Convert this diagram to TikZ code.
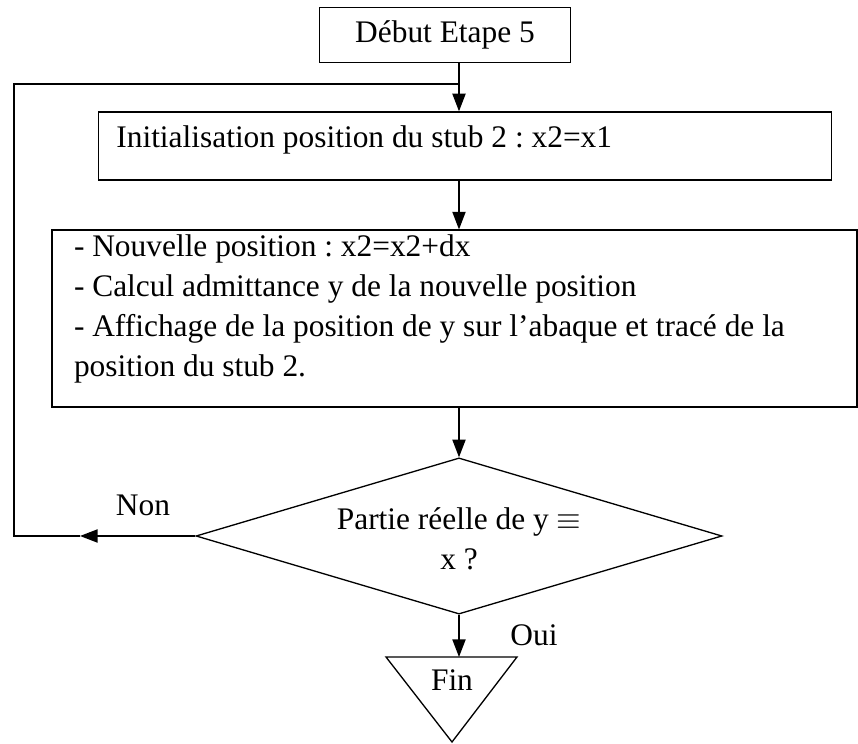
\documentclass[tikz,border=0pt]{standalone}
\usepackage{fontspec}
\setmainfont{Liberation Serif}
\usetikzlibrary{shapes.geometric,arrows.meta}

\tikzset{
  box/.style={draw, rectangle, inner sep=0pt},
  test/.style={draw, diamond, aspect=3.37, inner sep=0pt, align=center},
  tag/.style={inner sep=0pt}
}

\begin{document}
\frenchspacing
\begin{tikzpicture}[x=0.016cm, y=-0.016cm, line width=0.6pt,
    >={Triangle[length=8pt, width=6pt]},
    font=\fontsize{14.3}{18.2}\selectfont]
  \useasboundingbox (0,0) rectangle (858,744);
  % boxes of the flow, top to bottom
  \node[box, minimum width=4.02cm, minimum height=0.88cm] (debut) at (445,35) {Début Etape 5};
  \node[box, minimum width=11.74cm, minimum height=1.09cm,
        label={[tag, anchor=north west, xshift=0.29cm, yshift=-0.22cm]north west:Initialisation position du stub 2 : x2=x1}]
    (init) at (465,146) {};
  \node[box, minimum width=12.88cm, minimum height=2.83cm,
        label={[tag, anchor=north west, align=left, xshift=0.35cm, yshift=-0.08cm]north west:{- Nouvelle position : x2=x2+dx\\
          - Calcul admittance y de la nouvelle position\\
          - Affichage de la position de y sur l'abaque et tracé de la\\
          position du stub 2.}}]
    (calc) at (454.5,318.5) {};
  \node[test, minimum width=8.42cm, minimum height=2.5cm] (test) at (459,536)
    {\strut Partie réelle de y $\equiv$\\x ?};
  % end marker: upside-down triangle
  \coordinate (fintop) at (459,657);
  \draw (386,657) -- (517,657) -- (452,742) -- cycle;
  \node[tag] (fin) at (452,680) {Fin};
  % main flow
  \coordinate (join) at (459,84);
  \draw (debut.south -| join) -- (join);
  \draw[->] (join) -- (init.north -| join);
  \draw[->] (init.south -| join) -- (calc.north -| join);
  \draw[->] (calc.south -| join) -- (test.north);
  \draw[->] (test.south) -- (fintop);
  % loop back on "Non"
  \coordinate (nonend) at (80,536);
  \coordinate (corner) at (14,536);
  \draw[->] (test.west) -- (nonend);
  \draw (nonend) -- (corner) |- (join);
  \node[tag] (non) at (143,505) {Non};
  \node[tag] (oui) at (534,635) {Oui};
\end{tikzpicture}
\end{document}
